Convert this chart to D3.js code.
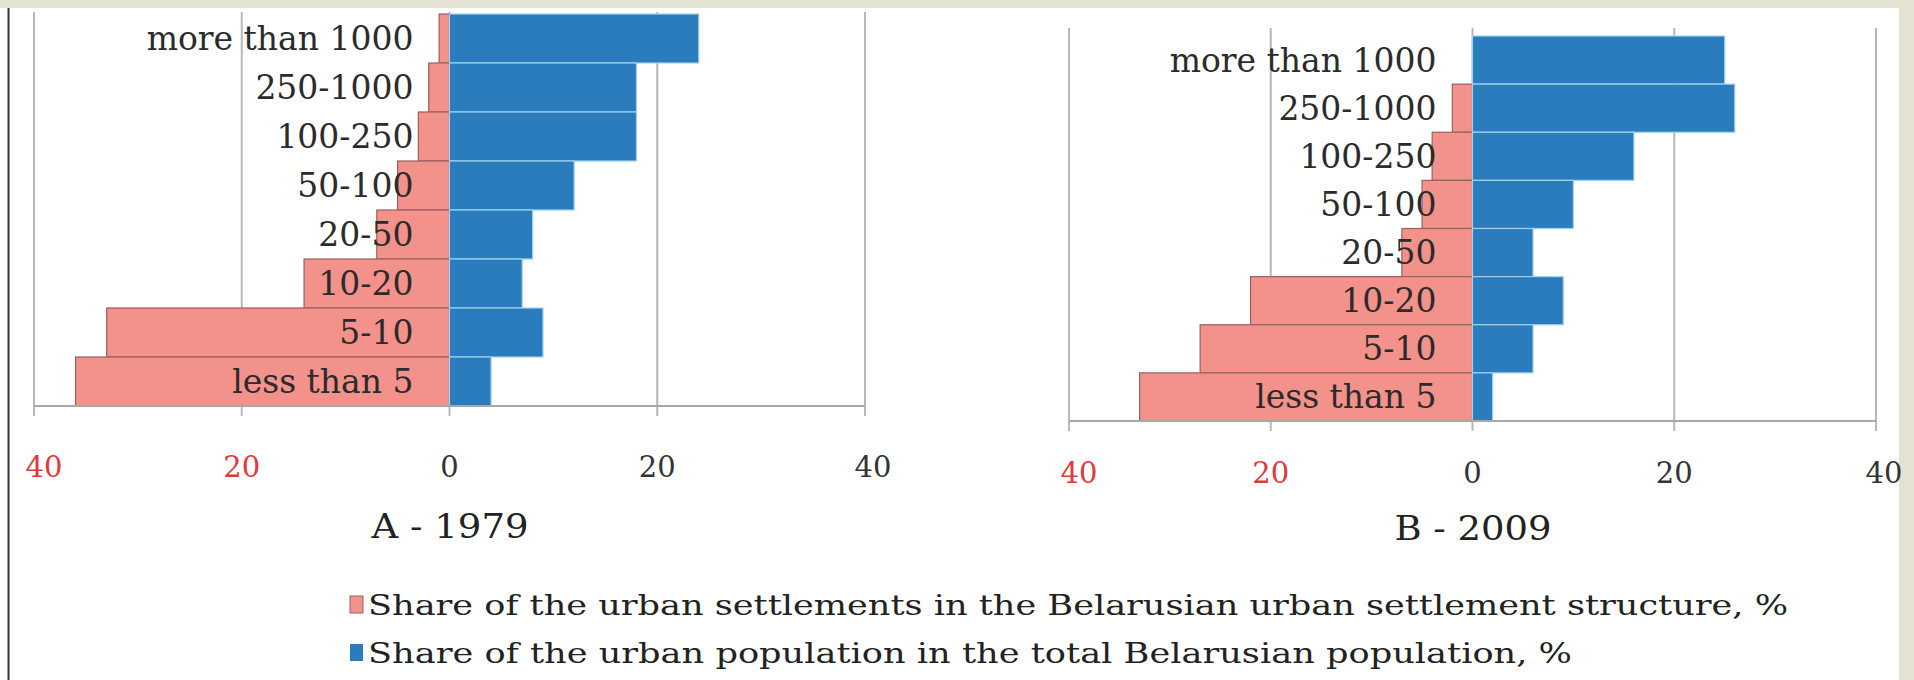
<!DOCTYPE html>
<html>
<head>
<meta charset="utf-8">
<script src="https://cdn.jsdelivr.net/npm/d3@7"></script>
<style>
  body { margin: 0; background: #fff; }
  svg { display: block; }
</style>
</head>
<body>
<svg id="chart" width="1914" height="680"></svg>
<script>
// size classes of the towns, top row first (thousand inhabitants)
var categories = ["more than 1000", "250-1000", "100-250", "50-100", "20-50", "10-20", "5-10", "less than 5"];

// 1979
var settlements1979 = [1, 2, 3, 5, 7, 14, 33, 36];
var population1979  = [24, 18, 18, 12, 8, 7, 9, 4];

// 2009
var settlements2009 = [0, 2, 4, 5, 7, 22, 27, 33];
var population2009  = [25, 26, 16, 10, 6, 9, 6, 2];

var tickValues = [-40, -20, 0, 20, 40];

var legendItems = [
  "Share of the urban settlements in the Belarusian urban settlement structure, %",
  "Share of the urban population in the total Belarusian population, %"
];
// measured widths of the two legend lines in the picture
var legendWidths = [1420, 1204];

var pink = "#f3918b", blue = "#2a7cbc";

var svg = d3.select("#chart");

// frame bits: beige strip on top and right, dark rule on the left
svg.append("rect").attr("x", 0).attr("y", 0).attr("width", 1914).attr("height", 8).attr("fill", "#e4e2d3");
svg.append("rect").attr("x", 1899).attr("y", 0).attr("width", 15).attr("height", 680).attr("fill", "#e4e2d3");
svg.append("line").attr("x1", 8.5).attr("x2", 8.5).attr("y1", 8).attr("y2", 680)
  .attr("stroke", "#333").attr("stroke-width", 2);

function panel(opts) {
  var x = d3.scaleLinear().domain([-40, 40]).range([opts.left, opts.right]);
  var y = d3.scaleBand().domain(categories).range([opts.top, opts.bottom]);
  var g = svg.append("g");

  // gridlines incl. little ticks under the axis
  g.selectAll(".grid").data(tickValues).enter().append("line")
    .attr("x1", function(d) { return x(d); })
    .attr("x2", function(d) { return x(d); })
    .attr("y1", opts.gridTop)
    .attr("y2", opts.bottom + 10)
    .attr("stroke", "#b8b8b8")
    .attr("stroke-width", 2);

  // settlements go to the left
  g.selectAll(".set").data(opts.settlements).enter().append("rect")
    .attr("x", function(d) { return x(-d); })
    .attr("y", function(d, i) { return y(categories[i]); })
    .attr("width", function(d) { return x(0) - x(-d); })
    .attr("height", y.bandwidth())
    .attr("fill", pink)
    .attr("stroke", function(d) { return d > 0 ? "#9a6060" : "none"; })
    .attr("stroke-width", 1.2);

  // population to the right
  g.selectAll(".pop").data(opts.population).enter().append("rect")
    .attr("x", x(0))
    .attr("y", function(d, i) { return y(categories[i]); })
    .attr("width", function(d) { return x(d) - x(0); })
    .attr("height", y.bandwidth())
    .attr("fill", blue)
    .attr("stroke", "#9fd2f2")
    .attr("stroke-width", 1.2);

  // axis line
  g.append("line")
    .attr("x1", opts.left).attr("x2", opts.right)
    .attr("y1", opts.bottom).attr("y2", opts.bottom)
    .attr("stroke", "#a8a8a8").attr("stroke-width", 2);

  // category labels sit over the bars, right aligned before the zero line
  g.selectAll(".cat").data(categories).enter().append("text")
    .attr("x", x(0) - 36)
    .attr("y", function(d) { return y(d) + y.bandwidth() / 2; })
    .attr("dy", "0.35em")
    .attr("text-anchor", "end")
    .attr("font-family", "DejaVu Serif")
    .attr("font-size", 33)
    .attr("fill", "#2b2b2b")
    .text(function(d) { return d; });

  // tick labels: the left half belongs to the pink series
  g.selectAll(".tick").data(tickValues).enter().append("text")
    .attr("x", function(d) { return d === 40 ? x(d) + 8 : Math.max(x(d), opts.left + 10); })
    .attr("y", opts.tickY)
    .attr("text-anchor", "middle")
    .attr("font-family", "DejaVu Serif")
    .attr("font-size", 29)
    .attr("fill", function(d) { return d < 0 ? "#e0393b" : "#333"; })
    .text(function(d) { return Math.abs(d); });

  g.append("text")
    .attr("x", x(0) - 78)
    .attr("y", opts.titleY)
    .attr("font-family", "DejaVu Serif")
    .attr("font-size", 34)
    .attr("textLength", 157)
    .attr("lengthAdjust", "spacingAndGlyphs")
    .attr("fill", "#222")
    .text(opts.title);
}

panel({ left: 34, right: 865, top: 14, bottom: 406, gridTop: 12, tickY: 477,
        titleY: 538, settlements: settlements1979, population: population1979, title: "A - 1979" });
panel({ left: 1069, right: 1876, top: 36, bottom: 421, gridTop: 28, tickY: 483,
        titleY: 540, settlements: settlements2009, population: population2009, title: "B - 2009" });

// legend
var legend = svg.append("g");
legendItems.forEach(function(t, i) {
  var cy = 605 + i * 48;
  legend.append("rect")
    .attr("x", 350).attr("y", cy - 9).attr("width", 13).attr("height", 17)
    .attr("fill", i === 0 ? pink : blue)
    .attr("stroke", i === 0 ? "#9a6060" : "none");
  legend.append("text")
    .attr("x", 368).attr("y", cy)
    .attr("dy", "0.35em")
    .attr("font-family", "DejaVu Serif")
    .attr("font-size", 28)
    .attr("textLength", legendWidths[i])
    .attr("lengthAdjust", "spacingAndGlyphs")
    .attr("fill", "#222")
    .text(t);
});
</script>
</body>
</html>
